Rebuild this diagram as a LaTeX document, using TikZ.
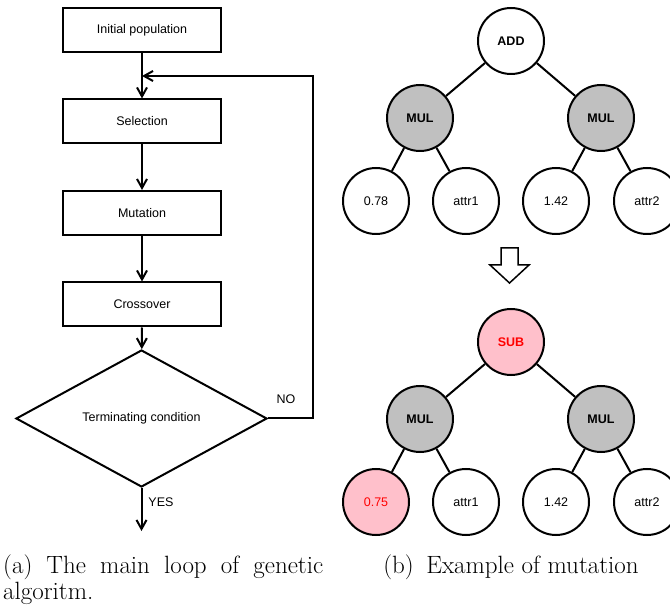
\documentclass[tikz,border=0pt]{standalone}
\usepackage{fontspec}
\newfontfamily\labelfont{Liberation Sans}
\usetikzlibrary{shapes.geometric,arrows.meta}

\definecolor{opgray}{HTML}{C0C0C0}
\definecolor{mutpink}{HTML}{FFC0CB}
\definecolor{mutred}{HTML}{FF0000}

\tikzset{
  x=1pt, y=-1pt,
  every node/.style={font=\labelfont\fontsize{12.5}{15}\selectfont},
  stepbox/.style={draw, line width=2pt, rectangle, minimum width=158pt, minimum height=44pt, inner sep=0pt},
  decision/.style={draw, line width=2pt, diamond, minimum width=251pt, minimum height=137pt, inner sep=0pt},
  flow/.style={line width=2pt, -{Straight Barb[length=9pt,width=10pt,line width=2pt]}},
  treenode/.style={draw, line width=2pt, circle, minimum size=66pt, inner sep=0pt, fill=white},
  rootnode/.style={treenode, font=\labelfont\bfseries\fontsize{12.5}{15}\selectfont},
  opnode/.style={rootnode, fill=opgray},
  mutop/.style={rootnode, fill=mutpink, text=mutred},
  mutleaf/.style={treenode, fill=mutpink, text=mutred},
  edge/.style={line width=2pt},
  caption/.style={font=\rmfamily\fontsize{25}{26}\selectfont, inner sep=0pt}
}

\begin{document}
\begin{tikzpicture}
\path[use as bounding box] (0,0) rectangle (670,612);
\clip (0,0) rectangle (670,612);

% ---- main loop of the genetic algorithm ----
\node[stepbox] (init) at (142,30)    {Initial population};
\node[stepbox] (sel)  at (142,121.5) {Selection};
\node[stepbox] (mut)  at (142,213)   {Mutation};
\node[stepbox] (cross) at (142,304.5) {Crossover};
\node[decision] (cond) at (141.5,418.5) {Terminating condition};

\coordinate (join) at (142,76);
\coordinate (back) at (313,76);
\coordinate (out)  at (141.5,531);

\draw[flow] (init) -- (sel);
\draw[flow] (sel) -- (mut);
\draw[flow] (mut) -- (cross);
\draw[flow] (cross) -- (cond);
\draw[flow] (cond.east) -| (back) -- (join);
\draw[flow] (cond.south) -- (out);

\node (no)  at (286,399) {NO};
\node (yes) at (161,502) {YES};

% ---- expression tree before mutation ----
\node[rootnode] (add) at (511,41)  {ADD};
\node[opnode]   (m1)  at (420,118) {MUL};
\node[opnode]   (m2)  at (601,118) {MUL};
\node[treenode] (a1)  at (376,201) {0.78};
\node[treenode] (a2)  at (466,201) {attr1};
\node[treenode] (a3)  at (556,201) {1.42};
\node[treenode] (a4)  at (647,201) {attr2};
\draw[edge] (add) -- (m1);
\draw[edge] (add) -- (m2);
\draw[edge] (m1) -- (a1);
\draw[edge] (m1) -- (a2);
\draw[edge] (m2) -- (a3);
\draw[edge] (m2) -- (a4);

% hollow arrow between the two trees
\draw[line width=1.5pt, fill=white]
  (501,248) -- (518,248) -- (518,265) -- (529,265) -- (509.5,283)
  -- (490,265) -- (501,265) -- cycle;

% ---- expression tree after mutation ----
\node[mutop]    (sub) at (511,342) {SUB};
\node[opnode]   (n1)  at (420,419) {MUL};
\node[opnode]   (n2)  at (601,419) {MUL};
\node[mutleaf]  (b1)  at (376,502) {0.75};
\node[treenode] (b2)  at (466,502) {attr1};
\node[treenode] (b3)  at (556,502) {1.42};
\node[treenode] (b4)  at (647,502) {attr2};
\draw[edge] (sub) -- (n1);
\draw[edge] (sub) -- (n2);
\draw[edge] (n1) -- (b1);
\draw[edge] (n1) -- (b2);
\draw[edge] (n2) -- (b3);
\draw[edge] (n2) -- (b4);

% ---- captions ----
\node[caption, text width=320pt, align=justify, anchor=base west] (capa) at (3,573)
  {(a) The main loop of genetic \mbox{algoritm.}};
\node[caption, anchor=base] (capb) at (511,573) {(b)\enspace Example of mutation};
\end{tikzpicture}
\end{document}
